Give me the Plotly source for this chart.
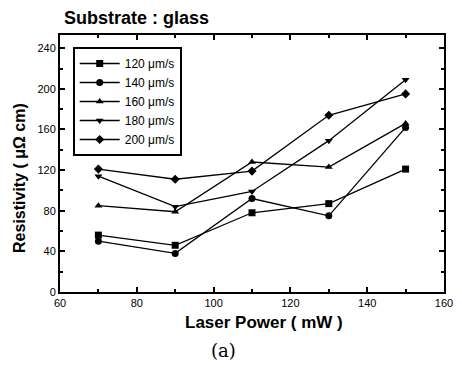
import plotly.graph_objects as go

laser_power = [70, 90, 110, 130, 150]
speeds = ["120 μm/s", "140 μm/s", "160 μm/s", "180 μm/s", "200 μm/s"]
resistivity = {
    "120 μm/s": [56, 46, 78, 87, 121],
    "140 μm/s": [50, 38, 92, 75, 162],
    "160 μm/s": [85, 79, 128, 123, 166],
    "180 μm/s": [114, 84, 99, 149, 209],
    "200 μm/s": [121, 111, 119, 174, 195],
}
symbols = ["square", "circle", "triangle-up", "triangle-down", "diamond"]
x_ticks = [60, 80, 100, 120, 140, 160]
y_ticks = [0, 40, 80, 120, 160, 200, 240]

FONT = "Arial, Liberation Sans"
ML, MR, MT, MB = 60, 9, 35, 80
W, H = 462, 372
PW, PH = W - ML - MR, H - MT - MB


def px(x, y):
    return (x - ML) / PW, (H - MB - y) / PH


fig = go.Figure()
for name, sym in zip(speeds, symbols):
    fig.add_trace(go.Scatter(
        x=laser_power, y=resistivity[name], name=name, mode="lines+markers",
        line=dict(color="black", width=1.3),
        marker=dict(symbol=sym, size=7, color="black"),
    ))

axis_common = dict(
    showline=True, linecolor="black", linewidth=2, mirror="ticks",
    ticks="inside", ticklen=5, tickwidth=1.5, tickcolor="black",
    showgrid=False, zeroline=False,
    tickfont=dict(family=FONT, size=11, color="black"),
)
fig.update_xaxes(range=[60, 160], tickvals=x_ticks,
                 minor=dict(ticks="inside", ticklen=3, dtick=10, tickcolor="black"),
                 **axis_common)
fig.update_yaxes(range=[0, 253], tickvals=y_ticks,
                 minor=dict(ticks="inside", ticklen=3, dtick=20, tickcolor="black"),
                 **axis_common)

anns = []
tx, ty = px(62, 18)
anns.append(dict(text="<b>Substrate : glass</b>", x=tx, y=ty, xanchor="left", yanchor="middle",
                 font=dict(family=FONT, size=18, color="black")))
tx, ty = px(269, 322)
anns.append(dict(text="<b>Laser Power ( mW )</b>", x=tx, y=ty, xanchor="center", yanchor="middle",
                 font=dict(family=FONT, size=17, color="black")))
tx, ty = px(18, 178)
anns.append(dict(text="<b>Resistivity ( μΩ cm)</b>", x=tx, y=ty, xanchor="center", yanchor="middle",
                 textangle=-90, font=dict(family=FONT, size=16, color="black")))
tx, ty = px(227, 350)
anns.append(dict(text="(a)", x=tx, y=ty, xanchor="center", yanchor="middle",
                 font=dict(family="DejaVu Serif", size=18, color="black")))
for a in anns:
    a.update(xref="paper", yref="paper", showarrow=False)

lx, ly = px(73, 47)
fig.update_layout(
    width=W, height=H,
    margin=dict(l=ML, r=MR, t=MT, b=MB),
    plot_bgcolor="white", paper_bgcolor="white",
    showlegend=True,
    legend=dict(x=lx, y=ly, xanchor="left", yanchor="top",
                bordercolor="black", borderwidth=2, bgcolor="white",
                tracegroupgap=0, itemwidth=40,
                font=dict(family=FONT, size=12, color="black")),
    annotations=anns,
)
fig.write_html("out.html")
